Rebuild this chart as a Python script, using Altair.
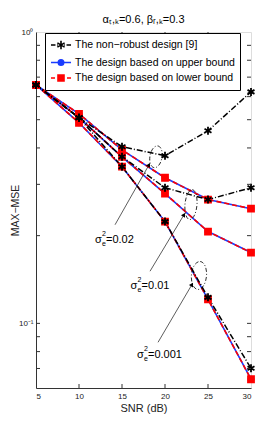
import altair as alt
import pandas as pd

# ---------------- data ----------------
snr = [5, 10, 15, 20, 25, 30]
sigmas = ["0.02", "0.01", "0.001"]

nonrobust = {
    "0.02": [0.658, 0.508, 0.404, 0.376, 0.458, 0.623],
    "0.01": [0.658, 0.508, 0.373, 0.292, 0.266, 0.292],
    "0.001": [0.658, 0.508, 0.345, 0.2235, 0.1228, 0.0701],
}
upper = {
    "0.02": [0.658, 0.524, 0.394, 0.316, 0.266, 0.2475],
    "0.01": [0.658, 0.508, 0.373, 0.279, 0.2066, 0.175],
    "0.001": [0.658, 0.488, 0.345, 0.2235, 0.1208, 0.0643],
}
lower = {
    "0.02": [0.658, 0.524, 0.394, 0.316, 0.266, 0.2475],
    "0.01": [0.658, 0.508, 0.373, 0.279, 0.2066, 0.175],
    "0.001": [0.658, 0.488, 0.345, 0.2235, 0.1208, 0.0643],
}

design_names = [
    "The non\u2212robust design [9]",
    "The design based on upper bound",
    "The design based on lower bound",
]
design_colors = ["#000000", "#1a3cff", "#ff0000"]

# annotation anchors (SNR, MSE)
ellipse_snr = [18.95, 23.02, 23.95]
ellipse_mse = [0.373, 0.2556, 0.146]
arrow_from_snr = [14.19, 18.26, 19.19]
arrow_from_mse = [0.218, 0.151, 0.0861]
arrow_to_snr = [18.14, 22.21, 23.14]
arrow_to_mse = [0.350, 0.236, 0.136]
label_snr = [11.86, 16.0, 16.74]
label_mse = [0.194, 0.134, 0.0777]
label_values = ["=0.02", "=0.01", "=0.001"]

x_ticks = [10, 15, 20, 25]
y_minor_ticks = [0.07, 0.08, 0.09, 0.1, 0.2, 0.3, 0.4, 0.5, 0.6, 0.7, 0.8, 0.9]

# ---------------- frames ----------------
rows = []
for name, table in zip(design_names, [nonrobust, upper, lower]):
    for s in sigmas:
        for x, v in zip(snr, table[s]):
            rows.append({"SNR": x, "MSE": v, "design": name, "sigma": s})
df = pd.DataFrame(rows)
legend_df = pd.DataFrame({"design": design_names})

ell = pd.DataFrame({"SNR": ellipse_snr, "MSE": ellipse_mse, "id": [0, 1, 2]})
arr = pd.DataFrame({"SNR": arrow_from_snr, "MSE": arrow_from_mse,
                    "SNR2": arrow_to_snr, "MSE2": arrow_to_mse})
lab = pd.DataFrame({"SNR": label_snr, "MSE": label_mse, "txt": label_values})
xt = pd.DataFrame({"SNR": x_ticks})
yt = pd.DataFrame({"MSE": y_minor_ticks})

W, H = 215, 356
FONT = "Liberation Sans"

xscale = alt.Scale(domain=[5, 30], nice=False, zero=False)
yscale = alt.Scale(type="log", domain=[0.06, 1], nice=False)

X = alt.X("SNR:Q", scale=xscale,
          axis=alt.Axis(values=[5, 10, 15, 20, 25, 30], title="SNR (dB)", ticks=False,
                        grid=False, labelFontSize=8, labelFont=FONT, titleFont=FONT,
                        titleFontSize=11, titleFontWeight="normal", labelPadding=4,
                        titlePadding=2, domainColor="#333", labelColor="#222",
                        titleColor="#222"))
Y = alt.Y("MSE:Q", scale=yscale,
          axis=alt.Axis(values=[0.1, 1], title="MAX\u2212MSE", ticks=False, grid=False,
                        labelExpr="datum.value >= 0.99 ? '10\u2070' : '10\u207b\u00b9'",
                        labelFontSize=8, labelFont=FONT, titleFont=FONT, titleFontSize=10.5,
                        titleFontWeight="normal", labelPadding=3, titleX=-16,
                        titleBaseline="bottom", domainColor="#333", labelColor="#222",
                        titleColor="#222"))

star_path = "M0,-1L0,1M-0.87,-0.5L0.87,0.5M-0.87,0.5L0.87,-0.5"

# legend symbols: line segment + marker in one path (drawn wider than the symbol box)
legend_paths = [
    "M-1.67,0L-0.92,0M-0.67,0L-0.53,0M0.53,0L0.67,0M0.92,0L1.67,0"
    "M0,-0.7L0,0.7M-0.6,-0.35L0.6,0.35M-0.6,0.35L0.6,-0.35",
    "M-1.67,0L1.67,0M-0.45,0A0.45,0.45 0 1,0 0.45,0A0.45,0.45 0 1,0 -0.45,0Z",
    "M-1.67,0L-1,0M1,0L1.67,0M-0.5,-0.5L0.5,-0.5L0.5,0.5L-0.5,0.5Z",
]
legend = alt.Legend(orient="none", legendX=9, legendY=1, title=None, symbolSize=144,
                    symbolStrokeWidth=1.6, symbolOpacity=1, symbolOffset=4, labelFont=FONT,
                    labelFontSize=10.5, labelOffset=7, padding=5, strokeColor="#000",
                    fillColor="white", labelLimit=400, rowPadding=2.5, labelColor="#000")

layers = []
# lines: upper (blue), lower (red dashed), non-robust (black dash-dot)
line_styles = [(1, 1.6, None), (2, 1.6, [5, 3]), (0, 1.5, [6, 2, 1, 2])]
for idx, w, dash in line_styles:
    kw = dict(strokeWidth=w, color=design_colors[idx])
    if dash:
        kw["strokeDash"] = dash
    layers.append(
        alt.Chart(df).transform_filter(alt.datum.design == design_names[idx])
        .mark_line(**kw).encode(x=X, y=Y, detail="sigma:N")
    )
point_styles = [(1, "circle", 25), (2, "square", 36), (0, star_path, 64)]
for idx, shp, sz in point_styles:
    layers.append(
        alt.Chart(df).transform_filter(alt.datum.design == design_names[idx])
        .mark_point(shape=shp, size=sz, strokeWidth=1.8, opacity=1, filled=False,
                    fill=design_colors[idx], stroke=design_colors[idx], fillOpacity=1)
        .encode(x=X, y=Y)
    )

# legend-only layer (invisible marks)
layers.append(
    alt.Chart(legend_df).mark_point(opacity=0, filled=True)
    .encode(
        shape=alt.Shape("design:N", scale=alt.Scale(domain=design_names, range=legend_paths),
                        legend=legend),
        fill=alt.Fill("design:N", scale=alt.Scale(domain=design_names, range=design_colors),
                      legend=legend),
        stroke=alt.Stroke("design:N", scale=alt.Scale(domain=design_names, range=design_colors),
                          legend=legend),
    )
)

# ticks pointing inward
tick_style = dict(color="#333", strokeWidth=1)
layers += [
    alt.Chart(xt).mark_rule(**tick_style).encode(x=X, y=alt.value(0), y2=alt.value(4)),
    alt.Chart(xt).mark_rule(**tick_style).encode(x=X, y=alt.value(H), y2=alt.value(H - 4)),
    alt.Chart(yt).mark_rule(**tick_style).encode(y=Y, x=alt.value(0), x2=alt.value(4)),
    alt.Chart(yt).mark_rule(**tick_style).encode(y=Y, x=alt.value(W), x2=alt.value(W - 4)),
]

# ellipses
ell_specs = [
    ("M0,-1A0.55,1 0 1,1 0,1A0.55,1 0 1,1 0,-1Z", 484, 10),
    ("M0,-1A0.4,1 0 1,1 0,1A0.4,1 0 1,1 0,-1Z", 900, 5),
    ("M0,-1A0.54,1 0 1,1 0,1A0.54,1 0 1,1 0,-1Z", 784, 5),
]
for i, (path, sz, ang) in enumerate(ell_specs):
    layers.append(
        alt.Chart(ell).transform_filter(alt.datum.id == i)
        .mark_point(shape=path, size=sz, angle=ang, filled=False, color="#000",
                    strokeWidth=0.8, strokeDash=[4, 2, 1, 2], opacity=1)
        .encode(x=X, y=Y)
    )

# arrows
layers.append(
    alt.Chart(arr).mark_rule(color="#333", strokeWidth=0.8)
    .encode(x=X, y=Y, x2="SNR2:Q", y2="MSE2:Q")
)
layers.append(
    alt.Chart(arr).mark_point(shape="triangle-up", size=22, angle=30, filled=True,
                              color="#000", opacity=1)
    .encode(x=alt.X("SNR2:Q", scale=xscale), y=alt.Y("MSE2:Q", scale=yscale))
)

# labels sigma_e^2 = ...
txt = dict(font=FONT, color="#000", align="left", baseline="middle")
layers += [
    alt.Chart(lab).mark_text(text="\u03c3", fontSize=11, **txt).encode(x=X, y=Y),
    alt.Chart(lab).mark_text(text="2", fontSize=7, dx=7, dy=-6, **txt).encode(x=X, y=Y),
    alt.Chart(lab).mark_text(text="e", fontSize=7, dx=7, dy=4, **txt).encode(x=X, y=Y),
    alt.Chart(lab).mark_text(fontSize=11, dx=11, **txt).encode(x=X, y=Y, text="txt:N"),
]

chart = alt.layer(*layers).properties(
    width=W, height=H,
    padding={"left": 28, "top": 24, "right": 18, "bottom": 41},
    autosize=alt.AutoSizeParams(type="none"),
    title=alt.Title("\u03b1\u209c,\u2096=0.6, \u03b2\u1d63,\u2096=0.3", font=FONT, fontSize=11,
                    fontWeight="normal", offset=3, anchor="middle", color="#000"),
).configure_view(stroke="#444", strokeWidth=1).configure(background="white")

chart.save("out.html", embed_options={"renderer": "svg", "actions": False})
